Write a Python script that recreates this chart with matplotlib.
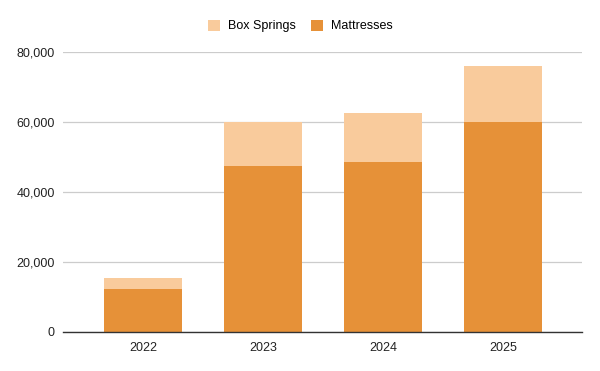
import matplotlib
matplotlib.use("Agg")
import matplotlib.pyplot as plt
from matplotlib.ticker import FuncFormatter

plt.rcParams['font.family'] = ['Liberation Sans', 'DejaVu Sans']

# data
years = ["2022", "2023", "2024", "2025"]
mattresses = [12400, 47500, 48700, 59900]
box_springs = [3000, 12500, 14000, 16200]

fig = plt.figure(figsize=(6, 3.71), dpi=100)
ax = fig.add_axes([63 / 600, 1 - 332 / 371, 519 / 600, 280 / 371])

x = range(len(years))
ax.bar(x, mattresses, width=0.65, color="#E69138", label="Mattresses", zorder=3)
ax.bar(x, box_springs, width=0.65, bottom=mattresses, color="#F9CB9C",
       label="Box Springs", zorder=3)

ax.set_xlim(-0.67, 3.66)
ax.set_ylim(0, 80000)
ax.set_yticks([0, 20000, 40000, 60000, 80000])
ax.yaxis.set_major_formatter(FuncFormatter(lambda v, p: f"{int(v):,}"))
ax.set_xticks(list(x))
ax.set_xticklabels(years)

ax.grid(axis="y", color="#CCCCCC", linewidth=0.9, zorder=0)
for s in ["top", "right", "left"]:
    ax.spines[s].set_visible(False)
ax.spines["bottom"].set_color("#333333")
ax.spines["bottom"].set_linewidth(1.0)
ax.spines["bottom"].set_zorder(4)
ax.tick_params(axis="both", length=0, labelsize=9, labelcolor="#222222")
ax.tick_params(axis="x", pad=7)
ax.tick_params(axis="y", pad=6)

handles, labels = ax.get_legend_handles_labels()
fig.legend(handles[::-1], labels[::-1], loc="center", bbox_to_anchor=(0.5, 1 - 26 / 371),
           ncol=2, frameon=False, fontsize=9, handlelength=1.0, handleheight=1.0,
           columnspacing=1.2, handletextpad=0.6)

fig.savefig("out.png", dpi=100)
